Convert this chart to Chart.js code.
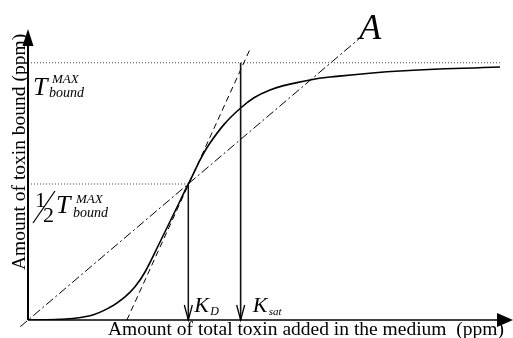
<!DOCTYPE html>
<html>
<head>
<meta charset="utf-8">
<script src="https://cdn.jsdelivr.net/npm/chart.js@4"></script>
<style>
  html, body { margin: 0; padding: 0; background: #fff; }
  #wrap { width: 513px; height: 338px; }
</style>
</head>
<body>
<div id="wrap"><canvas id="bindChart"></canvas></div>
<script>
// binding curve (both axes in % of axis length)
const curveX = [0, 6.67, 12.92, 17.08, 20.21, 22.29, 24.38, 27.5, 31.67, 33.4, 37.92, 44.3, 50.42, 58.75, 62.92, 77.5, 98.33];
const curveY = [0, 0.24, 1.48, 4.38, 8.0, 11.45, 16.55, 26.9, 41.03, 46.9, 61.03, 73.1, 79.31, 82.76, 83.79, 85.86, 87.24];

const tMax = 88.7;
const tHalf = 46.9;
const kD = 33.4;
const kSat = 44.3;
const xEnd = 98.3;

// tangent at K_D (dashed) and line A (dash-dot)
const tangentX = [20.6, 46.45];
const tangentY = [0, 94.1];
const lineAX = [-1.6, 69.2];
const lineAY = [-2.3, 97.3];

const xLabel = 'Amount of total toxin added in the medium  (ppm)';
const yLabel = 'Amount of toxin bound (ppm)';

const serif = '"Liberation Serif", "Times New Roman", serif';

function pts(xs, ys) {
  return xs.map((x, i) => ({ x: x, y: ys[i] }));
}

function txt(ctx, s, x, y, size, italic) {
  ctx.font = (italic ? 'italic ' : '') + size + 'px ' + serif;
  ctx.fillText(s, x, y);
}

const figurePlugin = {
  id: 'figure',
  afterDatasetsDraw(chart) {
    const ctx = chart.ctx;
    const xs = chart.scales.x, ys = chart.scales.y;
    const area = chart.chartArea;
    const x0 = xs.getPixelForValue(0);
    const y0 = ys.getPixelForValue(0);
    ctx.save();
    ctx.fillStyle = '#000';
    ctx.strokeStyle = '#000';
    ctx.setLineDash([]);

    // y axis with arrow
    ctx.lineWidth = 2;
    ctx.beginPath();
    ctx.moveTo(x0, y0);
    ctx.lineTo(x0, area.top + 10);
    ctx.stroke();
    ctx.beginPath();
    ctx.moveTo(x0, area.top - 1);
    ctx.lineTo(x0 - 5.5, area.top + 16);
    ctx.lineTo(x0 + 5.5, area.top + 16);
    ctx.closePath();
    ctx.fill();

    // x axis with arrow
    ctx.lineWidth = 1.5;
    ctx.beginPath();
    ctx.moveTo(x0, y0);
    ctx.lineTo(area.right, y0);
    ctx.stroke();
    ctx.beginPath();
    ctx.moveTo(area.right + 5, y0);
    ctx.lineTo(area.right - 11, y0 - 7);
    ctx.lineTo(area.right - 11, y0 + 7);
    ctx.closePath();
    ctx.fill();

    // arrow heads on K_D and K_sat drops
    ctx.lineWidth = 1.3;
    [kD, kSat].forEach(k => {
      const px = xs.getPixelForValue(k);
      ctx.beginPath();
      ctx.moveTo(px - 4, y0 - 15);
      ctx.lineTo(px, y0);
      ctx.lineTo(px + 4, y0 - 15);
      ctx.stroke();
    });

    ctx.textAlign = 'left';
    ctx.textBaseline = 'alphabetic';

    // T max label
    const yT = ys.getPixelForValue(tMax);
    txt(ctx, 'T', x0 + 5, yT + 32, 26, true);
    txt(ctx, 'MAX', x0 + 24, yT + 20, 13, true);
    txt(ctx, 'bound', x0 + 21, yT + 34, 14, true);

    // 1/2 T max label
    const yH = ys.getPixelForValue(tHalf);
    txt(ctx, '1', x0 + 7, yH + 23, 22, false);
    ctx.lineWidth = 1.2;
    ctx.beginPath();
    ctx.moveTo(x0 + 5, yH + 39);
    ctx.lineTo(x0 + 27, yH + 7);
    ctx.stroke();
    txt(ctx, '2', x0 + 15, yH + 38, 22, false);
    txt(ctx, 'T', x0 + 28, yH + 29, 26, true);
    txt(ctx, 'MAX', x0 + 48, yH + 19, 13, true);
    txt(ctx, 'bound', x0 + 45, yH + 33, 14, true);

    // K labels
    const xD = xs.getPixelForValue(kD);
    txt(ctx, 'K', xD + 6, y0 - 8, 22, true);
    txt(ctx, 'D', xD + 22, y0 - 5, 12, true);
    const xS = xs.getPixelForValue(kSat);
    txt(ctx, 'K', xS + 12, y0 - 8, 22, true);
    txt(ctx, 'sat', xS + 28, y0 - 5, 11, true);

    // line A label
    const ax = xs.getPixelForValue(lineAX[1]);
    const ay = ys.getPixelForValue(lineAY[1]);
    txt(ctx, 'A', ax - 1, ay + 1, 36, true);

    // axis titles
    txt(ctx, xLabel, x0 + 80, y0 + 15, 19.5, false);
    ctx.translate(x0 - 3, y0 - 50);
    ctx.rotate(-Math.PI / 2);
    txt(ctx, yLabel, 0, 0, 19.5, false);
    ctx.restore();
  }
};

const dotted = { borderColor: '#444', borderWidth: 1, borderDash: [1, 2] };

new Chart(document.getElementById('bindChart'), {
  type: 'line',
  data: {
    datasets: [
      Object.assign({ label: 'T max', data: pts([0, xEnd], [tMax, tMax]) }, dotted),
      Object.assign({ label: 'half T max', data: pts([0, kD], [tHalf, tHalf]) }, dotted),
      {
        label: 'K_D',
        data: pts([kD, kD], [tHalf, 0]),
        borderColor: '#111',
        borderWidth: 1.5
      },
      {
        label: 'K_sat',
        data: pts([kSat, kSat], [tMax, 0]),
        borderColor: '#111',
        borderWidth: 1.6
      },
      {
        label: 'tangent',
        data: pts(tangentX, tangentY),
        borderColor: '#000',
        borderWidth: 1,
        borderDash: [6, 4],
        clip: false
      },
      {
        label: 'A',
        data: pts(lineAX, lineAY),
        borderColor: '#000',
        borderWidth: 1,
        borderDash: [9, 3, 2, 3],
        clip: false
      },
      {
        label: 'bound',
        data: pts(curveX, curveY),
        borderColor: '#000',
        borderWidth: 1.6,
        tension: 0.4
      }
    ]
  },
  options: {
    responsive: true,
    maintainAspectRatio: false,
    animation: false,
    layout: { padding: { left: 28, right: 5, top: 30, bottom: 18 } },
    elements: { point: { radius: 0 } },
    scales: {
      x: { type: 'linear', min: 0, max: 100, display: false },
      y: { type: 'linear', min: 0, max: 100, display: false }
    },
    plugins: {
      legend: { display: false },
      tooltip: { enabled: false }
    }
  },
  plugins: [figurePlugin]
});
</script>
</body>
</html>
